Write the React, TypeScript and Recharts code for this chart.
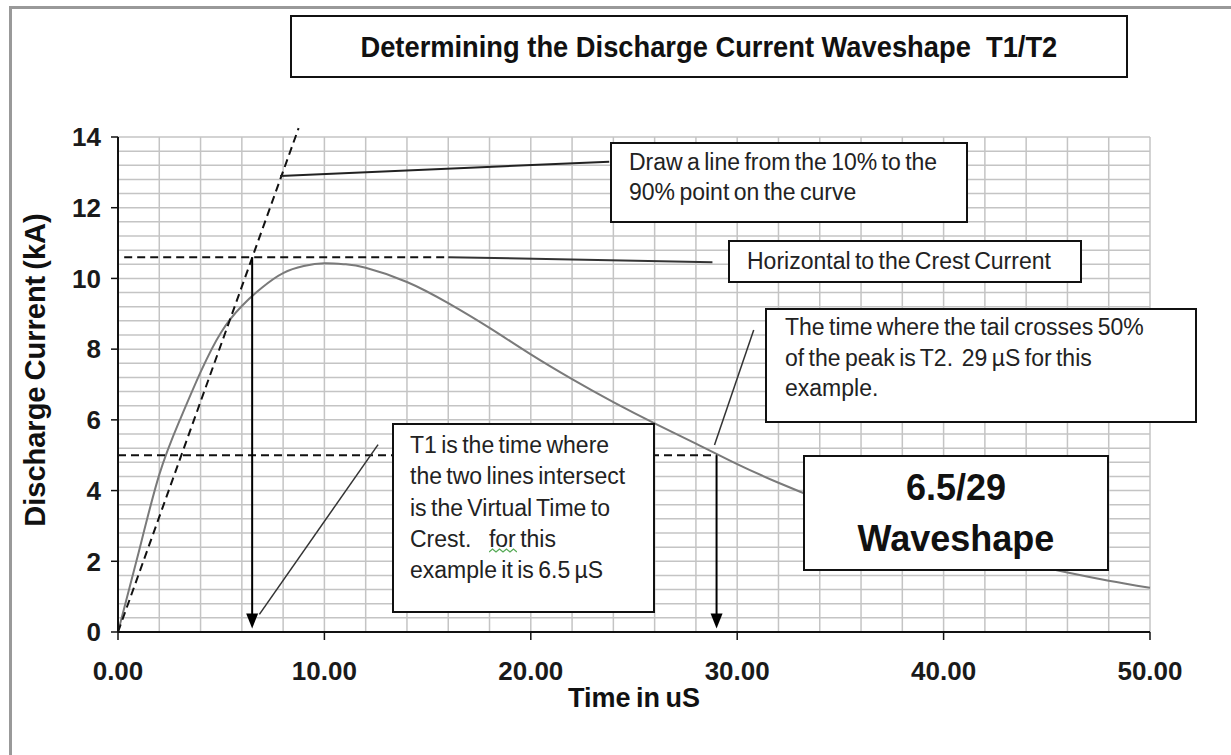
import React from 'react';
import { LineChart, Line, XAxis, YAxis, ReferenceLine, Label } from 'recharts';

// discharge current curve
const timeUs = [0, 1, 2, 3, 4, 5, 6, 7, 8, 9, 10, 11, 12, 14, 16, 18, 20, 22, 24, 26, 28, 30, 32, 34, 36, 38, 40, 42, 44, 46, 48, 50];
const currentKA = [0, 2.25, 4.45, 6.0, 7.35, 8.48, 9.22, 9.75, 10.15, 10.35, 10.43, 10.4, 10.3, 9.9, 9.3, 8.6, 7.85, 7.15, 6.5, 5.9, 5.33, 4.75, 4.22, 3.75, 3.35, 3.0, 2.62, 2.27, 1.95, 1.68, 1.45, 1.25];

const xTicks = [0, 10, 20, 30, 40, 50];
const yTicks = [0, 2, 4, 6, 8, 10, 12, 14];
const gridX = [2, 4, 6, 8, 10, 12, 14, 16, 18, 20, 22, 24, 26, 28, 30, 32, 34, 36, 38, 40, 42, 44, 46, 48, 50];
const gridY = Array.from({ length: 35 }, (_, i) => +(0.4 * (i + 1)).toFixed(1));

// construction lines
const crestLevel = 10.6;
const halfLevel = 5.0;
const t1 = 6.5;
const t2 = 29;
const riseLine = [{ x: 0, y: 0 }, { x: 8.75, y: 14.25 }];
const crestDash = [{ x: 0.3, y: crestLevel }, { x: 16, y: crestLevel }];
const halfDash = [{ x: 0, y: halfLevel }, { x: t2, y: halfLevel }];
const t1Arrow = [{ x: t1, y: crestLevel }, { x: t1, y: 0.1 }];
const t2Arrow = [{ x: t2, y: halfLevel }, { x: t2, y: 0.1 }];

// leader lines from the text boxes
const leaderRise = [{ x: 7.85, y: 12.9 }, { x: 23.8, y: 13.3 }];
const leaderCrest = [{ x: 16, y: crestLevel }, { x: 28.8, y: 10.46 }];
const leaderT1 = [{ x: 6.85, y: 0.5 }, { x: 12.6, y: 5.3 }];
const leaderT2 = [{ x: 28.9, y: 5.29 }, { x: 30.8, y: 8.54 }];

const data = timeUs.map((t, i) => ({ t, i: currentKA[i] }));

const FONT = "'Liberation Sans', Arial, sans-serif";

const ArrowDown = (props: any) => {
  const { x1, y1, x2, y2 } = props;
  return (
    <g>
      <line x1={x1} y1={y1} x2={x2} y2={y2 - 10} stroke="#000" strokeWidth={2} />
      <polygon points={`${x2 - 6},${y2 - 15} ${x2 + 6},${y2 - 15} ${x2},${y2}`} fill="#000" />
    </g>
  );
};

const YTitle = (props: any) => {
  const vb = props.viewBox;
  const cx = vb.x + 35;
  const cy = 370;
  return (
    <text x={cx} y={cy} transform={`rotate(-90, ${cx}, ${cy})`} textAnchor="middle" dominantBaseline="central"
      fontFamily={FONT} fontWeight="bold" fontSize={29} fill="#111" wordSpacing={-2}>
      Discharge Current (kA)
    </text>
  );
};

const XTitle = (props: any) => {
  const vb = props.viewBox;
  return (
    <text x={vb.x + vb.width / 2} y={vb.y + 75} textAnchor="middle"
      fontFamily={FONT} fontWeight="bold" fontSize={27} fill="#111" wordSpacing={-2}>
      Time in uS
    </text>
  );
};

const box: React.CSSProperties = {
  position: 'absolute',
  boxSizing: 'border-box',
  background: '#fff',
  border: '2px solid #111',
  fontFamily: FONT,
  fontSize: 23,
  color: '#222',
  wordSpacing: -2,
  whiteSpace: 'pre',
};

export default function App() {
  return (
    <div style={{ position: 'absolute', left: 0, top: 0, width: 1231, height: 755, overflow: 'hidden', background: '#fff' }}>
      <div style={{ position: 'absolute', left: 9, top: 6, width: 1400, height: 900, borderTop: '3px solid #999', borderLeft: '3px solid #999' }} />
      <div style={{ position: 'absolute', left: 0, top: 0 }}>
        <LineChart width={1231} height={755} data={data} margin={{ top: 137, right: 81, bottom: 0, left: 0 }}>
          <XAxis dataKey="t" type="number" domain={[0, 50]} ticks={xTicks} tickFormatter={(v) => v.toFixed(2)}
            axisLine={{ stroke: '#111', strokeWidth: 2 }} tickLine={{ stroke: '#111', strokeWidth: 1.5 }}
            tickSize={8} tickMargin={22} height={123}
            tick={{ fill: '#1a1a1a', fontSize: 26, fontWeight: 'bold', fontFamily: FONT }}>
            <Label content={XTitle} />
          </XAxis>
          <YAxis type="number" domain={[0, 14]} ticks={yTicks} width={118}
            axisLine={{ stroke: '#111', strokeWidth: 2 }} tickLine={{ stroke: '#111', strokeWidth: 1.5 }}
            tickSize={7} tickMargin={10}
            tick={{ fill: '#1a1a1a', fontSize: 26, fontWeight: 'bold', fontFamily: FONT }}>
            <Label content={YTitle} />
          </YAxis>

          {gridX.map((v) => (
            <ReferenceLine key={'gx' + v} x={v} stroke="#c4c4c4" strokeWidth={1.5} />
          ))}
          {gridY.map((v) => (
            <ReferenceLine key={'gy' + v} y={v} stroke="#c4c4c4" strokeWidth={1.5} />
          ))}

          <Line type="natural" dataKey="i" stroke="#7a7a7a" strokeWidth={2} dot={false} isAnimationActive={false} />

          <ReferenceLine segment={riseLine} stroke="#111" strokeWidth={2} strokeDasharray="8 5" ifOverflow="visible" />
          <ReferenceLine segment={crestDash} stroke="#111" strokeWidth={2} strokeDasharray="8 5" />
          <ReferenceLine segment={halfDash} stroke="#111" strokeWidth={2} strokeDasharray="8 5" />
          <ReferenceLine segment={t1Arrow} shape={ArrowDown} />
          <ReferenceLine segment={t2Arrow} shape={ArrowDown} />

          <ReferenceLine segment={leaderRise} stroke="#222" strokeWidth={2} />
          <ReferenceLine segment={leaderCrest} stroke="#333" strokeWidth={2} />
          <ReferenceLine segment={leaderT1} stroke="#333" strokeWidth={1.5} />
          <ReferenceLine segment={leaderT2} stroke="#333" strokeWidth={1.5} />
        </LineChart>
      </div>

      <div style={{ ...box, left: 290, top: 15, width: 838, height: 63, display: 'flex', alignItems: 'center', justifyContent: 'center',
        fontWeight: 'bold', fontSize: 30, color: '#111', wordSpacing: 0 }}>
        <span style={{ display: 'inline-block', transform: 'scaleX(0.91)', whiteSpace: 'pre' }}>
          Determining the Discharge Current Waveshape  T1/T2
        </span>
      </div>

      <div style={{ ...box, left: 610, top: 142, width: 358, height: 81, paddingLeft: 17, paddingTop: 3, lineHeight: '30px' }}>
        {'Draw a line from the 10% to the\n90% point on the curve'}
      </div>

      <div style={{ ...box, left: 728, top: 240, width: 354, height: 43, paddingLeft: 17, display: 'flex', alignItems: 'center' }}>
        Horizontal to the Crest Current
      </div>

      <div style={{ ...box, left: 765, top: 308, width: 432, height: 115, paddingLeft: 18, paddingTop: 2, lineHeight: '30.5px' }}>
        {'The time where the tail crosses 50%\nof the peak is T2.  29 µS for this\nexample.'}
      </div>

      <div style={{ ...box, left: 392, top: 423, width: 263, height: 190, paddingLeft: 16, paddingTop: 5, lineHeight: '31.3px' }}>
        {'T1 is the time where\nthe two lines intersect\nis the Virtual Time to\nCrest.    for this\nexample it is 6.5 µS'}
      </div>
      <svg style={{ position: 'absolute', left: 489, top: 548 }} width={28} height={6}>
        <path d="M0 4 L3.5 1 L7 4 L10.5 1 L14 4 L17.5 1 L21 4 L24.5 1 L28 4" stroke="#5a5" strokeWidth={1.3} fill="none" />
      </svg>

      <div style={{ ...box, left: 803, top: 455, width: 306, height: 116, paddingTop: 5, lineHeight: '51px', textAlign: 'center',
        fontWeight: 'bold', fontSize: 36, color: '#111', wordSpacing: 0 }}>
        {'6.5/29\nWaveshape'}
      </div>
    </div>
  );
}
